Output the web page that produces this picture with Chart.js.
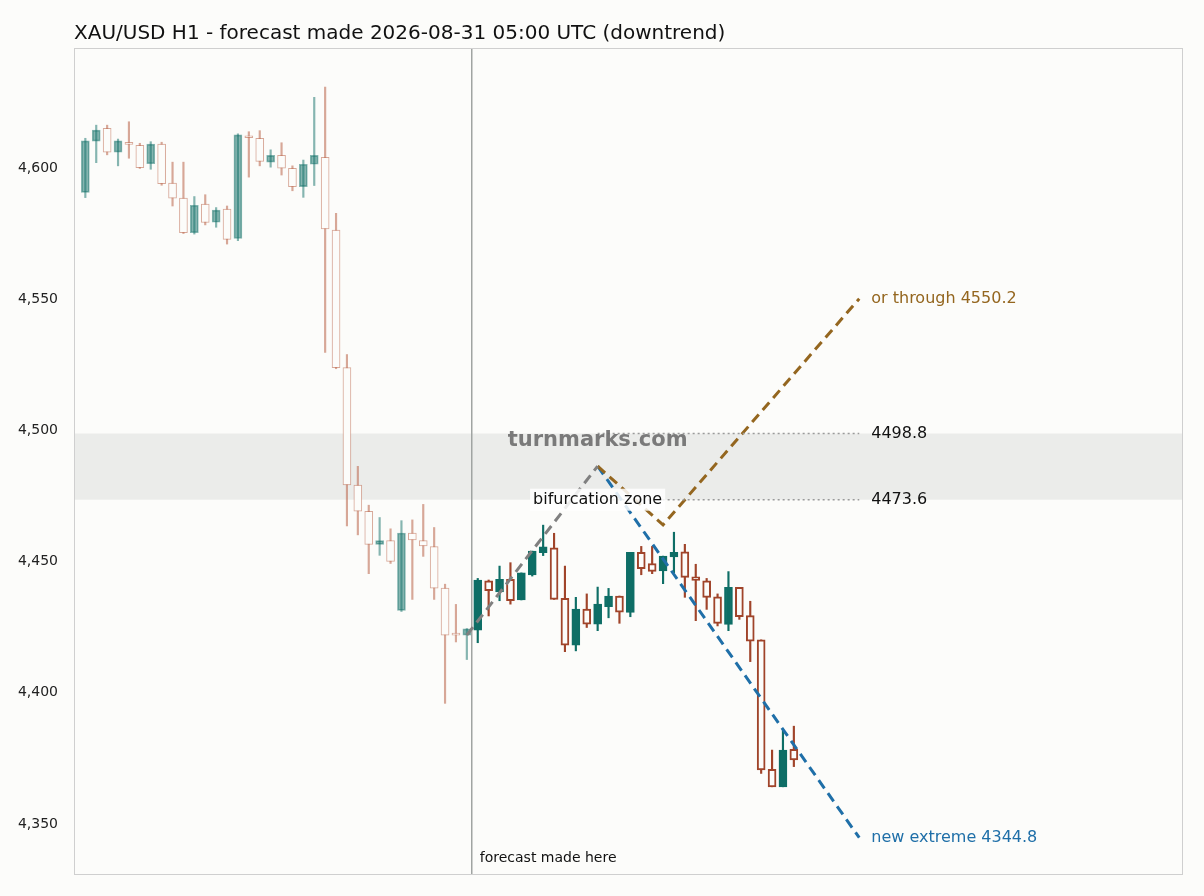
<!DOCTYPE html>
<html><head><meta charset="utf-8">
<script src="https://cdn.jsdelivr.net/npm/chart.js@4"></script>
<style>html,body{margin:0;padding:0;background:#fcfcfa;}#w{width:1204px;height:896px;}</style>
</head><body><div id="w"><canvas id="c"></canvas></div>
<script>
const opens  = [4590.7,4610.2,4615.1,4606,4609.8,4608.6,4601.6,4609.1,4594.2,4588.5,4575.3,4586.2,4579.3,4584.3,4573.1,4612.1,4611.3,4602.2,4604.8,4599.9,4592.9,4601.4,4604,4576.3,4523.9,4479.2,4469.2,4456.6,4458,4431.4,4460.9,4458,4455.7,4439.9,4422.2,4422,
  4423.9,4442.7,4438.5,4443.3,4435.4,4444.9,4453.4,4455.3,4436,4418.2,4431.9,4426.2,4432.8,4436.9,4430.6,4453.5,4449.3,4446.5,4451.8,4453.7,4444.2,4442.7,4436.6,4426.1,4440.2,4429.4,4420.2,4370.9,4364.2,4378.5];
const closes = [4610.3,4614.4,4606,4610.3,4609,4600.1,4609.1,4594,4588.5,4575.3,4585.8,4579.2,4583.9,4572.8,4612.6,4611.5,4602.5,4604.8,4599.9,4592.9,4601.4,4604.8,4576.8,4523.9,4479.2,4469.2,4456.6,4458,4450.1,4460.9,4458.3,4456,4439.9,4422,4422,4424.4,
  4443,4438.9,4443.3,4435.1,4445.7,4454,4455.6,4435.6,4418.2,4431.9,4426.2,4433.8,4436.9,4430.7,4453.5,4447.3,4446.3,4452.1,4453.5,4444,4442.8,4436.4,4426.5,4440.2,4429,4419.7,4370.6,4364.2,4378.2,4374.4];
const highs  = [4611.3,4616.3,4616.3,4611,4617.6,4609.4,4610,4609.8,4602.2,4602.2,4589.1,4589.8,4584.9,4585.5,4613,4613.8,4614.2,4606.9,4609.6,4600.8,4603,4626.9,4630.8,4582.7,4528.9,4486.3,4471.5,4466.8,4462.5,4465.6,4465.9,4471.8,4463,4441.4,4433.7,4424.5,
  4443.6,4443,4448.3,4449.6,4445.7,4454,4463.9,4460.8,4448.3,4436.4,4437.7,4440.3,4439.8,4436.9,4453.5,4455.8,4455.8,4452.1,4461.2,4456.6,4449,4443.6,4437.7,4446.2,4440.2,4434.9,4420.2,4378.2,4385.8,4387.3];
const lows   = [4588.7,4602,4605,4600.8,4603.7,4599.8,4599.5,4593.4,4585.5,4575,4574.8,4578.3,4577.4,4571,4572.3,4596.5,4600.8,4600.3,4597.3,4591.3,4588.8,4593.3,4529.7,4523.5,4463.6,4460.2,4445.4,4452.4,4449.3,4431,4435.6,4452,4435.6,4396,4419.4,4412.7,
  4419.1,4429.3,4435.1,4433.8,4435.4,4444.5,4452.3,4435.6,4415.7,4416,4424.9,4423.7,4428.6,4426.5,4429,4445,4445.4,4441.6,4445.8,4436.4,4427.5,4431.8,4425.5,4423.7,4428,4411.9,4369.3,4364.2,4364.2,4371.9];
const historyCount = 36;
const yTicks = [4350,4400,4450,4500,4550,4600];
const upperPath = [{x:35,y:4422},{x:47,y:4486.4}];
const brownPath = [{x:47,y:4486.4},{x:53,y:4464},{x:71,y:4550.2}];
const bluePath  = [{x:47,y:4486.4},{x:71,y:4344.8}];
const zoneHigh = 4498.8, zoneLow = 4473.6;
const forecastX = 35.45;

const idx = opens.map((_,i)=>i);
const isUp = i => closes[i] >= opens[i];
const colFor = i => {
  const teal = i < historyCount ? 'rgba(14,110,102,0.5)' : '#0e6e66';
  const red  = i < historyCount ? 'rgba(190,110,85,0.6)' : '#a0442a';
  return isUp(i) ? teal : red;
};

const bg = {id:'bg', beforeDraw(ch){const {ctx,chartArea:a,scales:{x,y}}=ch; ctx.save();
  ctx.fillStyle='#fcfcfa'; ctx.fillRect(0,0,ch.width,ch.height);
  ctx.fillStyle='#ebecea'; const t=y.getPixelForValue(zoneHigh), b=y.getPixelForValue(zoneLow);
  ctx.fillRect(a.left,t,a.right-a.left,b-t);
  ctx.strokeStyle='#a0a4a2'; ctx.lineWidth=1.5; const fx=x.getPixelForValue(forecastX);
  ctx.beginPath(); ctx.moveTo(fx,a.top); ctx.lineTo(fx,a.bottom); ctx.stroke();
  ctx.fillStyle='#111'; ctx.font='20px "DejaVu Sans", sans-serif'; ctx.textBaseline='alphabetic';
  ctx.fillText('XAU/USD H1 - forecast made 2026-08-31 05:00 UTC (downtrend)',74,39);
  ctx.restore();},
 afterDraw(ch){const {ctx,chartArea:a,scales:{x,y}}=ch; ctx.save();
  ctx.strokeStyle='#cfcfcf'; ctx.lineWidth=1; ctx.strokeRect(a.left+0.5,a.top+0.5,a.right-a.left-1,a.bottom-a.top-1);
  ctx.font='bold 21px "DejaVu Sans", sans-serif'; ctx.fillStyle='rgba(110,110,110,0.9)'; ctx.textAlign='center'; ctx.textBaseline='middle';
  ctx.fillText('turnmarks.com', x.getPixelForValue(47), y.getPixelForValue(4496));
  ctx.font='16px "DejaVu Sans", sans-serif';
  const bx=x.getPixelForValue(47), by=y.getPixelForValue(zoneLow);
  const w=ctx.measureText('bifurcation zone').width+6;
  ctx.fillStyle='rgba(255,255,255,0.85)'; ctx.fillRect(bx-w/2,by-11,w,22);
  ctx.fillStyle='#111'; ctx.fillText('bifurcation zone',bx,by);
  ctx.textAlign='left';
  const lx=x.getPixelForValue(71)+12;
  ctx.font='16px "DejaVu Sans", sans-serif';
  ctx.fillStyle='#94661f'; ctx.fillText('or through 4550.2',lx,y.getPixelForValue(4550.2));
  ctx.fillStyle='#111'; ctx.fillText('4498.8',lx,y.getPixelForValue(zoneHigh)); ctx.fillText('4473.6',lx,y.getPixelForValue(zoneLow));
  ctx.fillStyle='#1f6fa8'; ctx.fillText('new extreme 4344.8',lx,y.getPixelForValue(4344.8));
  ctx.fillStyle='#111'; ctx.font='14px "DejaVu Sans", sans-serif';
  ctx.fillText('forecast made here', x.getPixelForValue(forecastX)+8, a.bottom-17);
  ctx.restore();}};

const dash = (data,color,d,w)=>({type:'line',data,borderColor:color,borderWidth:w,borderDash:d,pointRadius:0,fill:false,order:0,tension:0});

new Chart(document.getElementById('c'),{
  data:{datasets:[
    {type:'bar',data:idx.map(i=>({x:i,y:[lows[i],highs[i]]})),backgroundColor:idx.map(colFor),borderWidth:0,barThickness:1.5,grouped:false,order:3,minBarLength:1},
    {type:'bar',data:idx.map(i=>({x:i,y:[opens[i],closes[i]]})),backgroundColor:idx.map(i=>isUp(i)?colFor(i):'#fcfcfa'),
      borderColor:idx.map(colFor),borderWidth:idx.map(i=>i<historyCount?1:2),borderSkipped:false,barThickness:8,grouped:false,order:2,minBarLength:2},
    dash([{x:47,y:zoneHigh},{x:71,y:zoneHigh}],'#9a9a9a',[2,3],1.5),
    dash([{x:47,y:zoneLow},{x:71,y:zoneLow}],'#9a9a9a',[2,3],1.5),
    dash(upperPath,'#808080',[10,6],3),
    dash(brownPath,'#94661f',[10,6],3),
    dash(bluePath,'#1f6fa8',[10,6],3)
  ]},
  options:{responsive:true,maintainAspectRatio:false,animation:false,
    layout:{padding:{left:0,top:48,right:21,bottom:21}},
    plugins:{legend:{display:false},tooltip:{enabled:false}},
    scales:{
      x:{type:'linear',min:-1.04,max:100.7,display:false,offset:false},
      y:{min:4330.6,max:4645.7,grid:{display:false},border:{display:false},
        afterFit(s){s.width=74;},
        afterBuildTicks(s){s.ticks=yTicks.map(v=>({value:v}));},
        ticks:{color:'#222',font:{size:14,family:'"DejaVu Sans", sans-serif'},padding:8}}
    }},
  plugins:[bg]
});
</script></body></html>
